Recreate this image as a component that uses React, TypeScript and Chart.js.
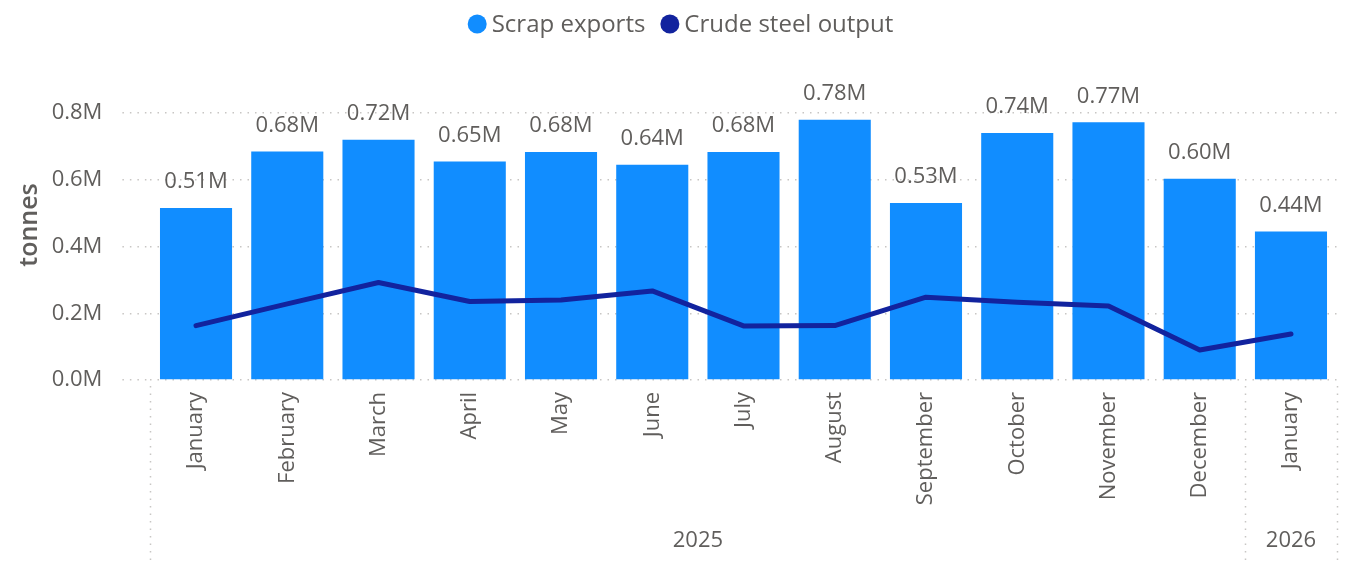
import React, { useEffect, useRef } from "react";
import { Chart, registerables } from "chart.js";

Chart.register(...registerables);

const months = ["January", "February", "March", "April", "May", "June", "July", "August", "September", "October", "November", "December", "January"];
const years = ["2025", "2026"];
const yearSpans = [12, 1];
const scrapExports = [515000, 685000, 720000, 655000, 683000, 645000, 683000, 780000, 530000, 740000, 772000, 603000, 445000];
const scrapLabels = ["0.51M", "0.68M", "0.72M", "0.65M", "0.68M", "0.64M", "0.68M", "0.78M", "0.53M", "0.74M", "0.77M", "0.60M", "0.44M"];
const crudeSteel = [163000, 228000, 292000, 235000, 240000, 267000, 162000, 163000, 248000, 233000, 222000, 90000, 138000];
const yTicks = [0, 200000, 400000, 600000, 800000];

const BAR = "#118DFF";
const LINE = "#12239E";
const TXT = "#605E5C";
const FONT = "'Open Sans', 'Noto Sans', sans-serif";

export default function App() {
  const ref = useRef<HTMLCanvasElement | null>(null);
  useEffect(() => {
    if (!ref.current) return;
    const overlay = {
      id: "overlay",
      afterDatasetsDraw(chart: any) {
        const ctx = chart.ctx;
        const x = chart.scales.x;
        const y = chart.scales.y;
        const area = chart.chartArea;
        ctx.save();
        // data labels
        ctx.font = `22px ${FONT}`;
        ctx.fillStyle = TXT;
        ctx.textAlign = "center";
        ctx.textBaseline = "middle";
        scrapExports.forEach((v, i) => {
          ctx.fillText(scrapLabels[i], x.getPixelForValue(i), y.getPixelForValue(v) - 26);
        });
        // group separators
        ctx.strokeStyle = "#C8C6C4";
        ctx.lineWidth = 1.5;
        ctx.setLineDash([1.5, 6]);
        const cw = (area.right - area.left) / months.length;
        let idx = 0;
        const bounds = [area.left];
        yearSpans.forEach((s) => { idx += s; bounds.push(area.left + idx * cw); });
        bounds.forEach((bx) => {
          ctx.beginPath();
          ctx.moveTo(Math.round(bx) + 0.5, area.bottom + 6);
          ctx.lineTo(Math.round(bx) + 0.5, 562);
          ctx.stroke();
        });
        ctx.setLineDash([]);
        ctx.font = `22px ${FONT}`;
        ctx.fillStyle = TXT;
        years.forEach((yr, i) => {
          ctx.fillText(yr, (bounds[i] + bounds[i + 1]) / 2, 541);
        });
        // axis title
        ctx.save();
        ctx.translate(30, 225);
        ctx.rotate(-Math.PI / 2);
        ctx.font = `600 25px ${FONT}`;
        ctx.fillStyle = TXT;
        ctx.fillText("tonnes", 0, 0);
        ctx.restore();
        // legend
        ctx.font = `24px ${FONT}`;
        ctx.textAlign = "left";
        const items = [
          { label: "Scrap exports", color: BAR },
          { label: "Crude steel output", color: LINE },
        ];
        const r = 9.5;
        const gap = 5;
        const between = 15;
        let total = 0;
        items.forEach((it, i) => {
          total += 2 * r + gap + ctx.measureText(it.label).width + (i < items.length - 1 ? between : 0);
        });
        let lx = 680.5 - total / 2;
        items.forEach((it) => {
          ctx.beginPath();
          ctx.fillStyle = it.color;
          ctx.arc(lx + r, 24, r, 0, Math.PI * 2);
          ctx.fill();
          lx += 2 * r + gap;
          ctx.fillStyle = TXT;
          ctx.fillText(it.label, lx, 25);
          lx += ctx.measureText(it.label).width + between;
        });
        ctx.restore();
      },
    };
    const chart = new Chart(ref.current, {
      type: "bar",
      data: {
        labels: months,
        datasets: [
          {
            type: "line",
            label: "Crude steel output",
            data: crudeSteel,
            borderColor: LINE,
            backgroundColor: LINE,
            borderWidth: 5,
            pointRadius: 0,
            tension: 0,
            borderCapStyle: "round",
            borderJoinStyle: "round",
            order: 0,
          },
          {
            type: "bar",
            label: "Scrap exports",
            data: scrapExports,
            backgroundColor: BAR,
            categoryPercentage: 1,
            barPercentage: 0.79,
            order: 1,
          },
        ],
      } as any,
      options: {
        responsive: false,
        animation: false,
        devicePixelRatio: 1,
        layout: { padding: { left: 0, right: 19.4, top: 113, bottom: 0 } },
        plugins: { legend: { display: false }, tooltip: { enabled: false } },
        scales: {
          x: {
            grid: { display: false, drawTicks: false },
            border: { display: false },
            ticks: {
              autoSkip: false,
              minRotation: 90,
              maxRotation: 90,
              padding: 12,
              color: TXT,
              font: { family: FONT, size: 22 },
            },
            afterFit(scale: any) { scale.height = 182; },
          },
          y: {
            min: 0,
            max: 800000,
            afterBuildTicks(scale: any) { scale.ticks = yTicks.map((v) => ({ value: v })); },
            grid: { color: "#C8C6C4", lineWidth: 1.5, tickLength: 28, tickBorderDash: [1.5, 6], tickColor: "#C8C6C4" },
            border: { display: false, dash: [1.5, 6] },
            ticks: {
              padding: 20,
              color: TXT,
              font: { family: FONT, size: 22 },
              callback: (v: any) => (Number(v) / 1e6).toFixed(1) + "M",
            },
            afterFit(scale: any) { scale.width = 150.4; },
          },
        },
      } as any,
      plugins: [overlay],
    });
    return () => chart.destroy();
  }, []);
  return (
    <div style={{ position: "absolute", left: 0, top: 0, width: 1356, height: 562, background: "#fff" }}>
      <canvas ref={ref} width={1356} height={562} />
    </div>
  );
}
